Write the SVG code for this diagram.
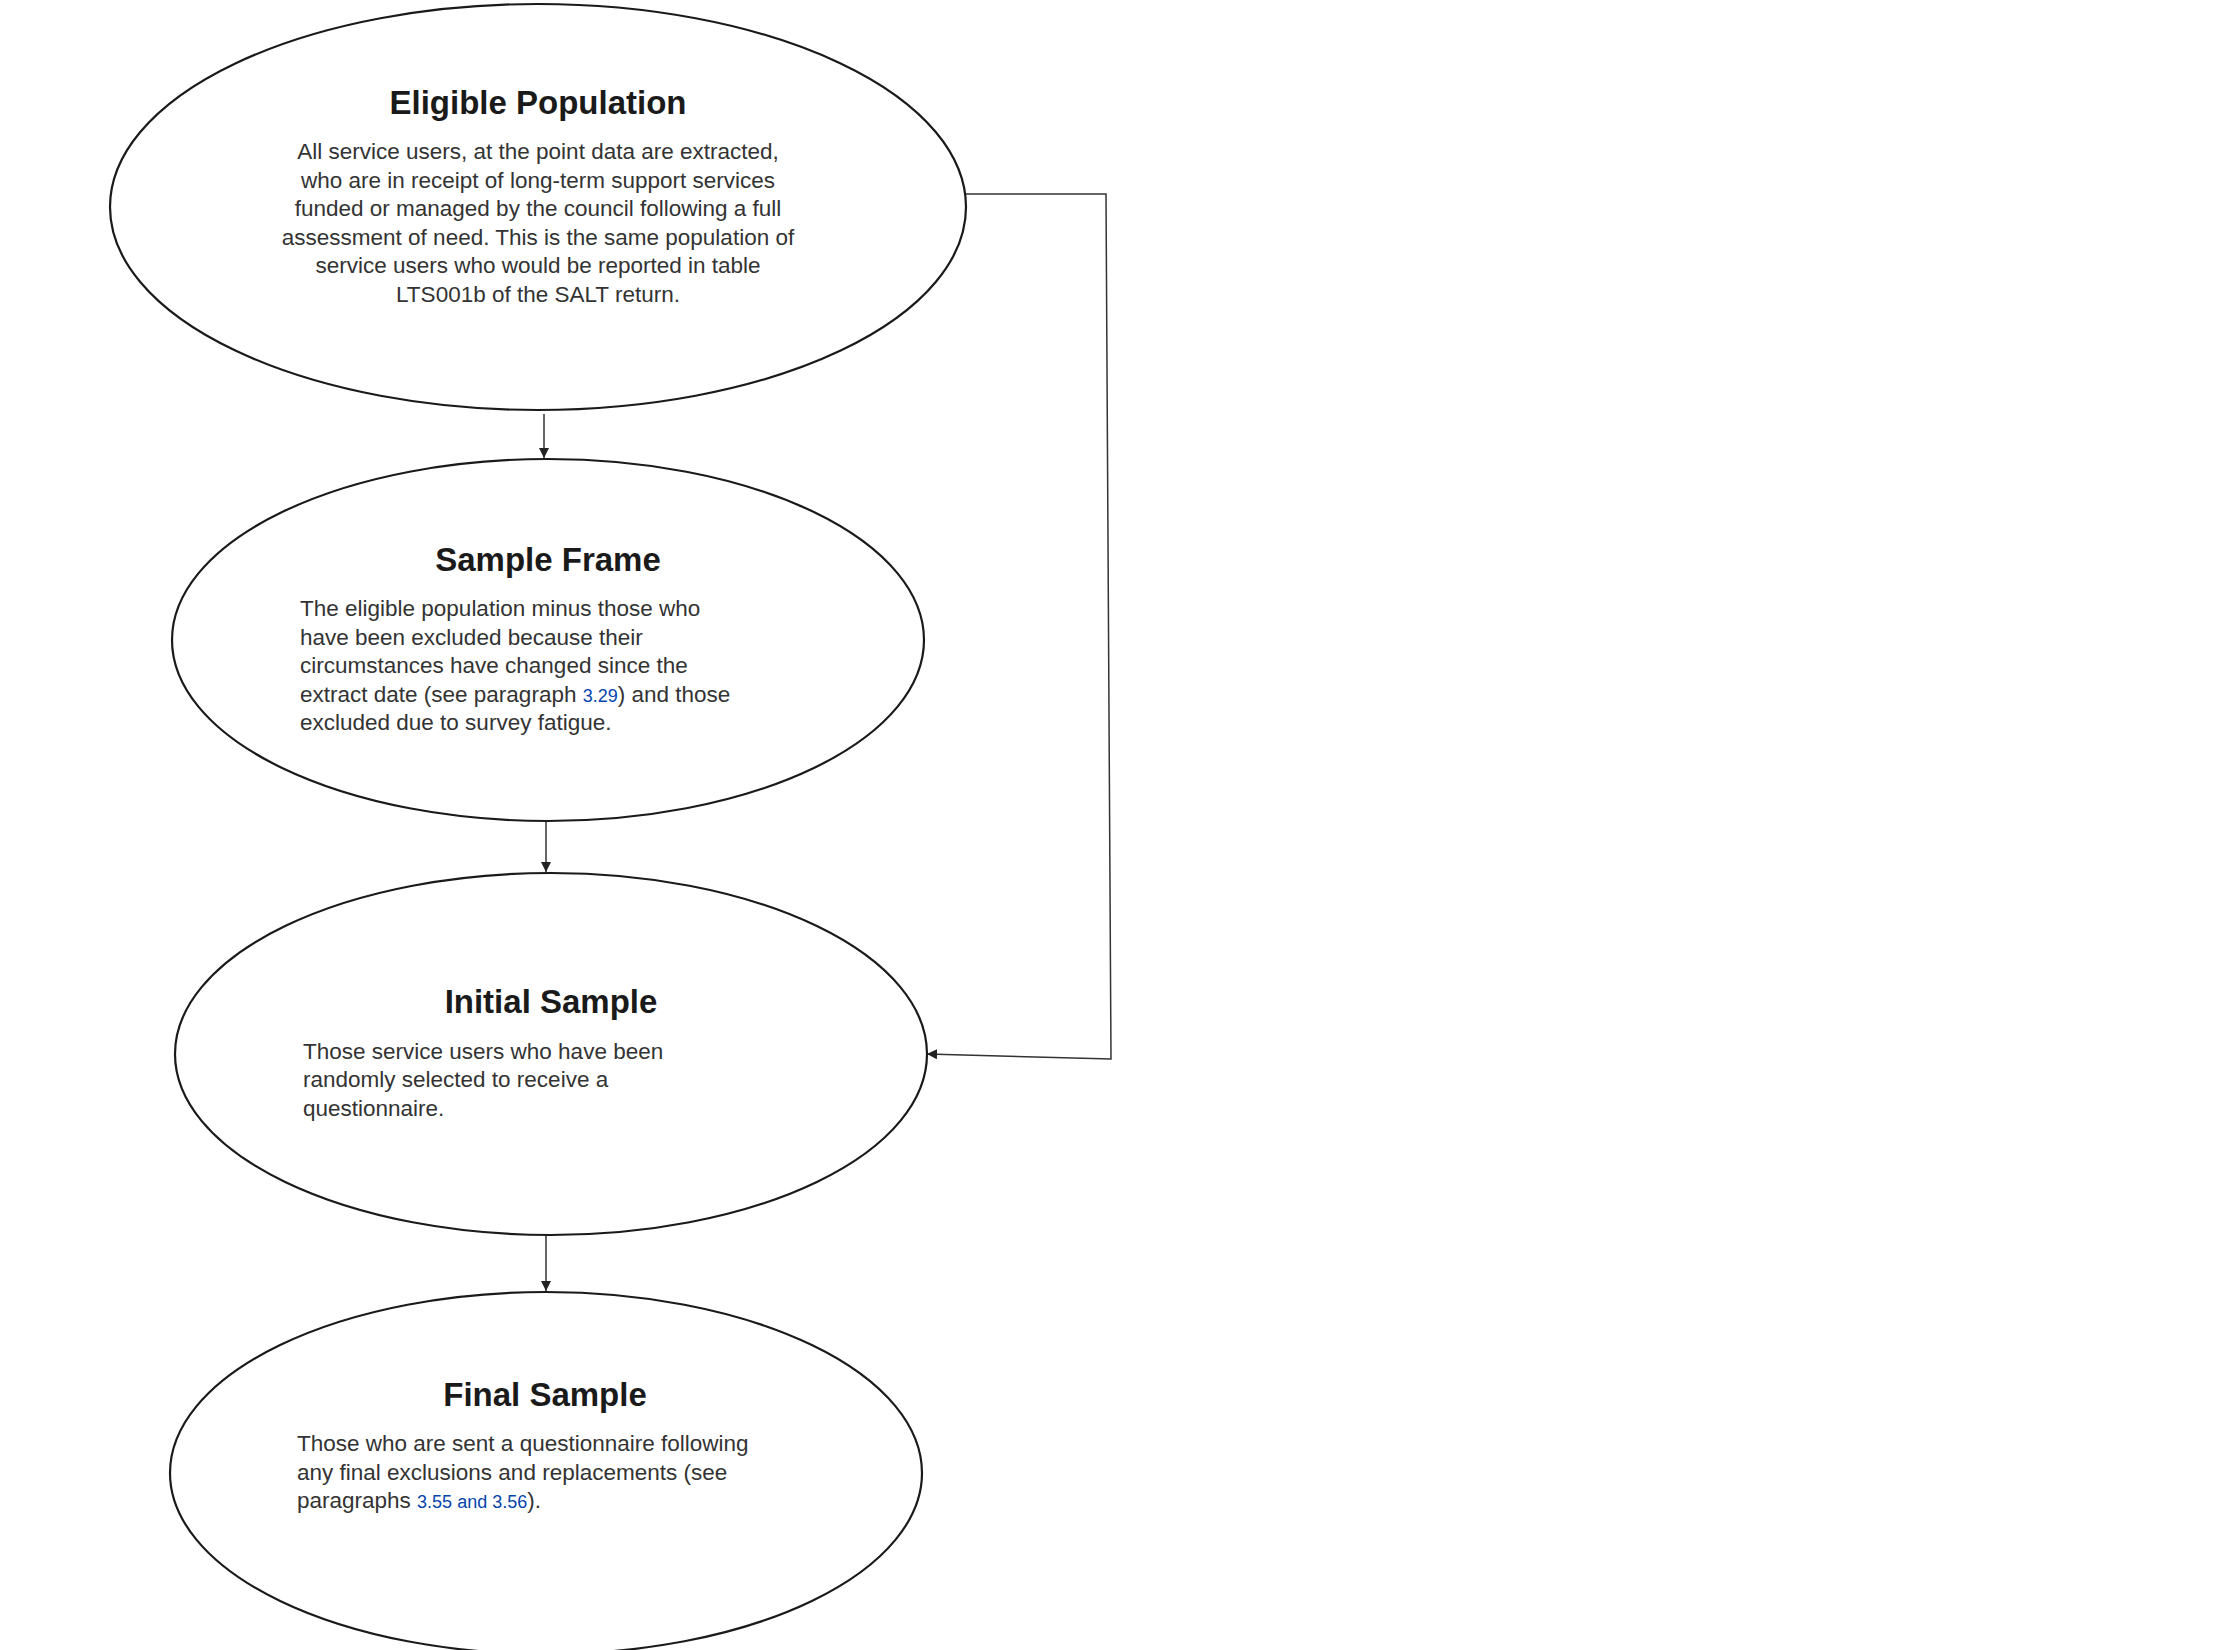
<svg xmlns="http://www.w3.org/2000/svg" width="2220" height="1650" viewBox="0 0 2220 1650">
<style>
.n{fill:#fff;stroke:#1a1a1a;stroke-width:2.2}
.t{font-family:"Liberation Sans",Arial,sans-serif;font-weight:bold;font-size:33px;fill:#1a1a1a;text-anchor:middle}
.b{font-family:"Liberation Sans",Arial,sans-serif;font-size:22.5px;fill:#333}
.c{text-anchor:middle}
.l{fill:#0645ad;font-size:18px}
.e{fill:none;stroke:#333;stroke-width:1.5}
</style>
<defs><marker id="a" viewBox="0 0 10 10" refX="10" refY="5" markerWidth="10" markerHeight="10" markerUnits="userSpaceOnUse" orient="auto"><path d="M0,0L10,5L0,10z" fill="#222"/></marker></defs>
<rect width="2220" height="1650" fill="#fff"/>
<g id="connectors">
<path class="e" d="M544,414V458" marker-end="url(#a)"/>
<path class="e" d="M546,821V872" marker-end="url(#a)"/>
<path class="e" d="M546,1235V1291" marker-end="url(#a)"/>
<path class="e" d="M966,194H1106L1111,1059L927,1054" marker-end="url(#a)"/>
</g>
<g id="eligible">
<ellipse class="n" cx="538" cy="207" rx="428" ry="203"/>
<text class="t" x="538" y="114">Eligible Population</text>
<text class="b c" x="538" y="159">All service users, at the point data are extracted,</text>
<text class="b c" x="538" y="188">who are in receipt of long-term support services</text>
<text class="b c" x="538" y="216">funded or managed by the council following a full</text>
<text class="b c" x="538" y="245">assessment of need. This is the same population of</text>
<text class="b c" x="538" y="273">service users who would be reported in table</text>
<text class="b c" x="538" y="302">LTS001b of the SALT return.</text>
</g>
<g id="frame">
<ellipse class="n" cx="548" cy="640" rx="376" ry="181"/>
<text class="t" x="548" y="571">Sample Frame</text>
<text class="b" x="300" y="616">The eligible population minus those who</text>
<text class="b" x="300" y="645">have been excluded because their</text>
<text class="b" x="300" y="673">circumstances have changed since the</text>
<text class="b" x="300" y="702">extract date (see paragraph <tspan class="l">3.29</tspan>) and those</text>
<text class="b" x="300" y="730">excluded due to survey fatigue.</text>
</g>
<g id="initial">
<ellipse class="n" cx="551" cy="1054" rx="376" ry="181"/>
<text class="t" x="551" y="1013">Initial Sample</text>
<text class="b" x="303" y="1059">Those service users who have been</text>
<text class="b" x="303" y="1087">randomly selected to receive a</text>
<text class="b" x="303" y="1116">questionnaire.</text>
</g>
<g id="final">
<ellipse class="n" cx="546" cy="1473" rx="376" ry="181"/>
<text class="t" x="545" y="1406">Final Sample</text>
<text class="b" x="297" y="1451">Those who are sent a questionnaire following</text>
<text class="b" x="297" y="1480">any final exclusions and replacements (see</text>
<text class="b" x="297" y="1508">paragraphs <tspan class="l">3.55 and 3.56</tspan>).</text>
</g>
</svg>
